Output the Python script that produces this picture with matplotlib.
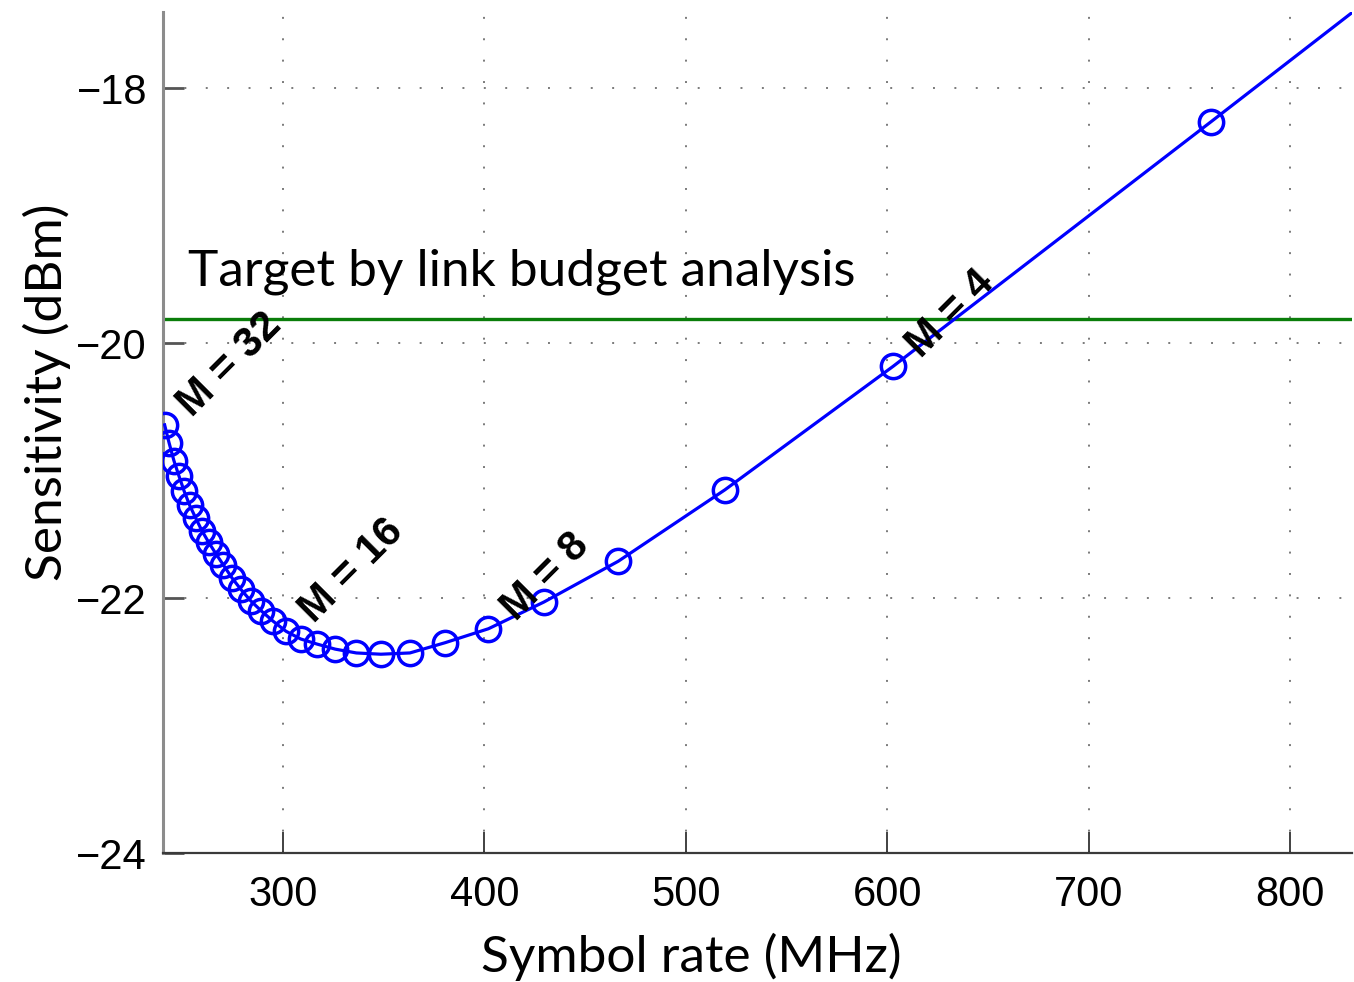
import matplotlib
matplotlib.use("Agg")
import matplotlib.pyplot as plt

# ---- data ----
M_values = [32, 31, 30, 29, 28, 27, 26, 25, 24, 23, 22, 21, 20, 19, 18, 17,
            16, 15, 14, 13, 12, 11, 10, 9, 8, 7, 6, 5, 4, 3]
symbol_rate = [241.2, 243.4, 245.8, 248.3, 250.9, 253.6, 256.6, 259.7, 263.0,
               266.6, 270.4, 274.6, 279.0, 283.9, 289.2, 295.0, 301.5, 308.7,
               316.8, 325.9, 336.4, 348.6, 363.0, 380.4, 402.0, 429.6, 466.5,
               519.4, 603.0, 760.9]
sensitivity = [-20.64, -20.78, -20.92, -21.04, -21.16, -21.27, -21.37, -21.47,
               -21.56, -21.65, -21.74, -21.84, -21.93, -22.02, -22.10, -22.18,
               -22.26, -22.32, -22.36, -22.40, -22.43, -22.44, -22.43, -22.35,
               -22.24, -22.03, -21.71, -21.15, -20.18, -18.26]
# curve continues past the last marker (leaves the plot at the top-right)
tail_rate = [850.0]
tail_sens = [-17.17]

target_level = -19.81
target_label = "Target by link budget analysis"
labeled_M = [32, 16, 8, 4]

xticks = [300, 400, 500, 600, 700, 800]
yticks = [-24, -22, -20, -18]

# ---- figure ----
W, H = 1354, 982
fig = plt.figure(figsize=(W / 100, H / 100), dpi=100)
ax = fig.add_axes([163 / W, 1 - 853 / H, (1352 - 163) / W, (853 - 12) / H])

ax.set_xlim(240.4, 830.8)
ax.set_ylim(-24, -17.40)

# grid (dotted)
ax.set_xticks(xticks)
ax.set_yticks(yticks)
ax.grid(True, color="#7a7a7a", linewidth=1.4, linestyle=(0, (1, 10)))
ax.set_axisbelow(True)

# main curve
ax.plot(symbol_rate + tail_rate, sensitivity + tail_sens, color=(0, 0, 1),
        linewidth=2.3, zorder=3)
ax.plot(symbol_rate, sensitivity, linestyle="none", marker="o",
        markersize=17.5, markerfacecolor="none", markeredgecolor=(0, 0, 1),
        markeredgewidth=2.5, zorder=4)

# target line
ax.axhline(target_level, color="#0a7d0a", linewidth=2.4, zorder=2)
ax.text(252.8, -19.545, target_label, fontsize=37, family="Lato",
        ha="left", va="baseline", zorder=5)

# M labels
for m in labeled_M:
    i = M_values.index(m)
    ax.annotate(f"M = {m}", xy=(symbol_rate[i], sensitivity[i]),
                xytext=(20, 5), textcoords="offset points",
                rotation=45, rotation_mode="anchor", ha="left", va="baseline",
                fontsize=30, fontweight="bold", family="Liberation Sans",
                zorder=6)

# spines
for s in ("top", "right"):
    ax.spines[s].set_visible(False)
ax.spines["left"].set_color("#8c8c8c")
ax.spines["left"].set_linewidth(2.2)
ax.spines["bottom"].set_color("#3a3a3a")
ax.spines["bottom"].set_linewidth(1.6)

ax.tick_params(axis="both", direction="in", length=15, labelsize=30)
ax.tick_params(axis="y", color="#555555", width=2.0, pad=11.5)
ax.tick_params(axis="x", color="#333333", width=1.3, pad=16)
for lab in ax.get_xticklabels() + ax.get_yticklabels():
    lab.set_family("Liberation Sans")

# axis labels
fig.text(691 / W, 1 - 972 / H, "Symbol rate (MHz)", fontsize=37, family="Lato",
         ha="center", va="baseline")
fig.text(62 / W, 1 - 392 / H, "Sensitivity (dBm)", fontsize=37, family="Lato",
         rotation=90, rotation_mode="anchor", ha="center", va="baseline")

fig.savefig("out.png", dpi=100)
